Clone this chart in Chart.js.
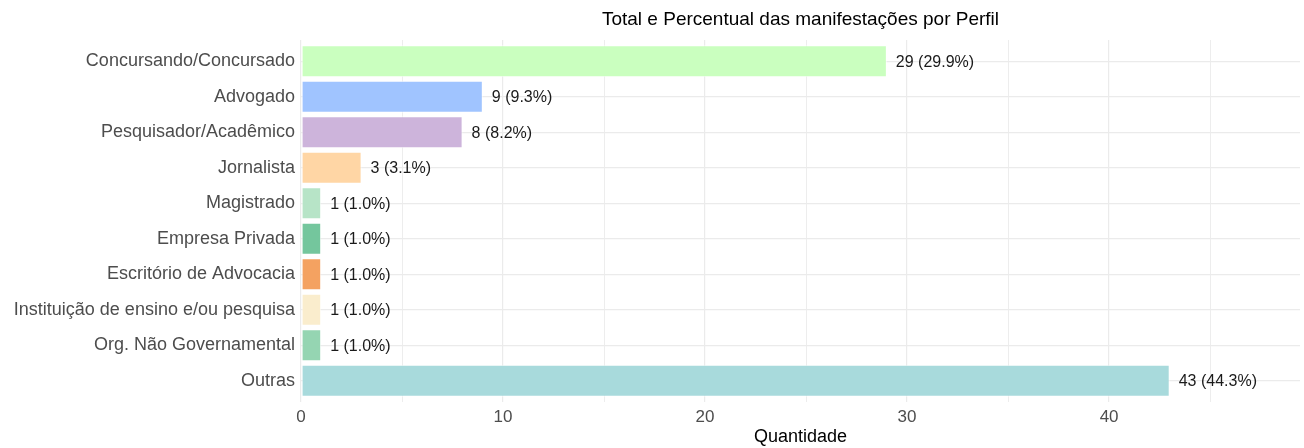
<!DOCTYPE html>
<html>
<head>
<meta charset="utf-8">
<script src="https://cdn.jsdelivr.net/npm/chart.js@4/dist/chart.umd.min.js"></script>
<style>
  html, body { margin: 0; padding: 0; background: #ffffff; }
  #wrap { width: 1304px; height: 448px; position: relative; }
</style>
</head>
<body>
<div id="wrap"><canvas id="c" width="1304" height="448"></canvas></div>
<script>
const categories = [
  "Concursando/Concursado",
  "Advogado",
  "Pesquisador/Acadêmico",
  "Jornalista",
  "Magistrado",
  "Empresa Privada",
  "Escritório de Advocacia",
  "Instituição de ensino e/ou pesquisa",
  "Org. Não Governamental",
  "Outras"
];
const counts = [29, 9, 8, 3, 1, 1, 1, 1, 1, 43];
const percents = [29.9, 9.3, 8.2, 3.1, 1.0, 1.0, 1.0, 1.0, 1.0, 44.3];
const barColors = [
  "#CAFFBF", "#A0C4FF", "#CDB4DB", "#FFD6A5", "#B7E4C7",
  "#74C69D", "#F4A261", "#FAEDCD", "#95D5B2", "#A8DADC"
];
const xTickValues = [0, 5, 10, 15, 20, 25, 30, 35, 40, 45];
const xLabelValues = [0, 10, 20, 30, 40];

const FONT = "'Liberation Sans', Arial, sans-serif";

const valueLabels = {
  id: 'valueLabels',
  afterDatasetsDraw(chart) {
    const ctx = chart.ctx;
    const meta = chart.getDatasetMeta(0);
    ctx.save();
    ctx.font = "16px " + FONT;
    ctx.fillStyle = "#1a1a1a";
    ctx.textAlign = "left";
    ctx.textBaseline = "middle";
    meta.data.forEach((bar, i) => {
      const txt = counts[i] + " (" + percents[i].toFixed(1) + "%)";
      ctx.fillText(txt, bar.x + 9, bar.y + 1);
    });
    ctx.restore();
  }
};

new Chart(document.getElementById('c'), {
  type: 'bar',
  data: {
    datasets: [{
      data: counts.map((v, i) => ({ x: v, y: i })),
      backgroundColor: barColors,
      borderColor: "rgba(255,255,255,0.7)",
      borderWidth: 1,
      borderSkipped: false,
      barPercentage: 0.9,
      categoryPercentage: 1.0
    }]
  },
  options: {
    indexAxis: 'y',
    responsive: false,
    animation: false,
    devicePixelRatio: 1,
    layout: { padding: { left: 0, right: 4, top: 0, bottom: 0 } },
    plugins: {
      legend: { display: false },
      tooltip: { enabled: false },
      title: {
        display: true,
        text: "Total e Percentual das manifestações por Perfil",
        fullSize: false,
        color: "#000000",
        font: { family: FONT, size: 19, weight: 'normal' },
        padding: { top: 8.6, bottom: 8.6 }
      }
    },
    scales: {
      x: {
        type: 'linear',
        position: 'bottom',
        min: 0,
        max: 49.45,
        afterBuildTicks(scale) {
          scale.ticks = xTickValues.map(v => ({ value: v }));
        },
        afterFit(scale) { scale.height = 46; },
        grid: {
          color: "#ebebeb",
          lineWidth: (c) => (c.tick && c.tick.value % 10 === 0) ? 1.2 : 0.9,
          drawTicks: false
        },
        border: { display: false },
        ticks: {
          padding: 5,
          color: "#4d4d4d",
          font: { family: FONT, size: 17 },
          maxRotation: 0,
          autoSkip: false,
          callback: (v) => xLabelValues.includes(v) ? String(v) : ''
        },
        title: {
          display: true,
          text: "Quantidade",
          color: "#000000",
          font: { family: FONT, size: 18 },
          padding: { top: 0, bottom: 0 }
        }
      },
      y: {
        type: 'linear',
        reverse: true,
        offset: false,
        min: -0.6,
        max: 9.6,
        afterBuildTicks(scale) {
          scale.ticks = categories.map((_, i) => ({ value: i }));
        },
        afterFit(scale) { scale.width = 301; },
        grid: {
          color: "#ebebeb",
          lineWidth: 1.2,
          drawTicks: false,
          offset: false
        },
        border: { display: false },
        ticks: {
          padding: 6,
          color: "#4d4d4d",
          font: { family: FONT, size: 18 },
          autoSkip: false,
          callback: (v) => categories[v] !== undefined ? categories[v] : ''
        }
      }
    }
  },
  plugins: [valueLabels]
});
</script>
</body>
</html>
